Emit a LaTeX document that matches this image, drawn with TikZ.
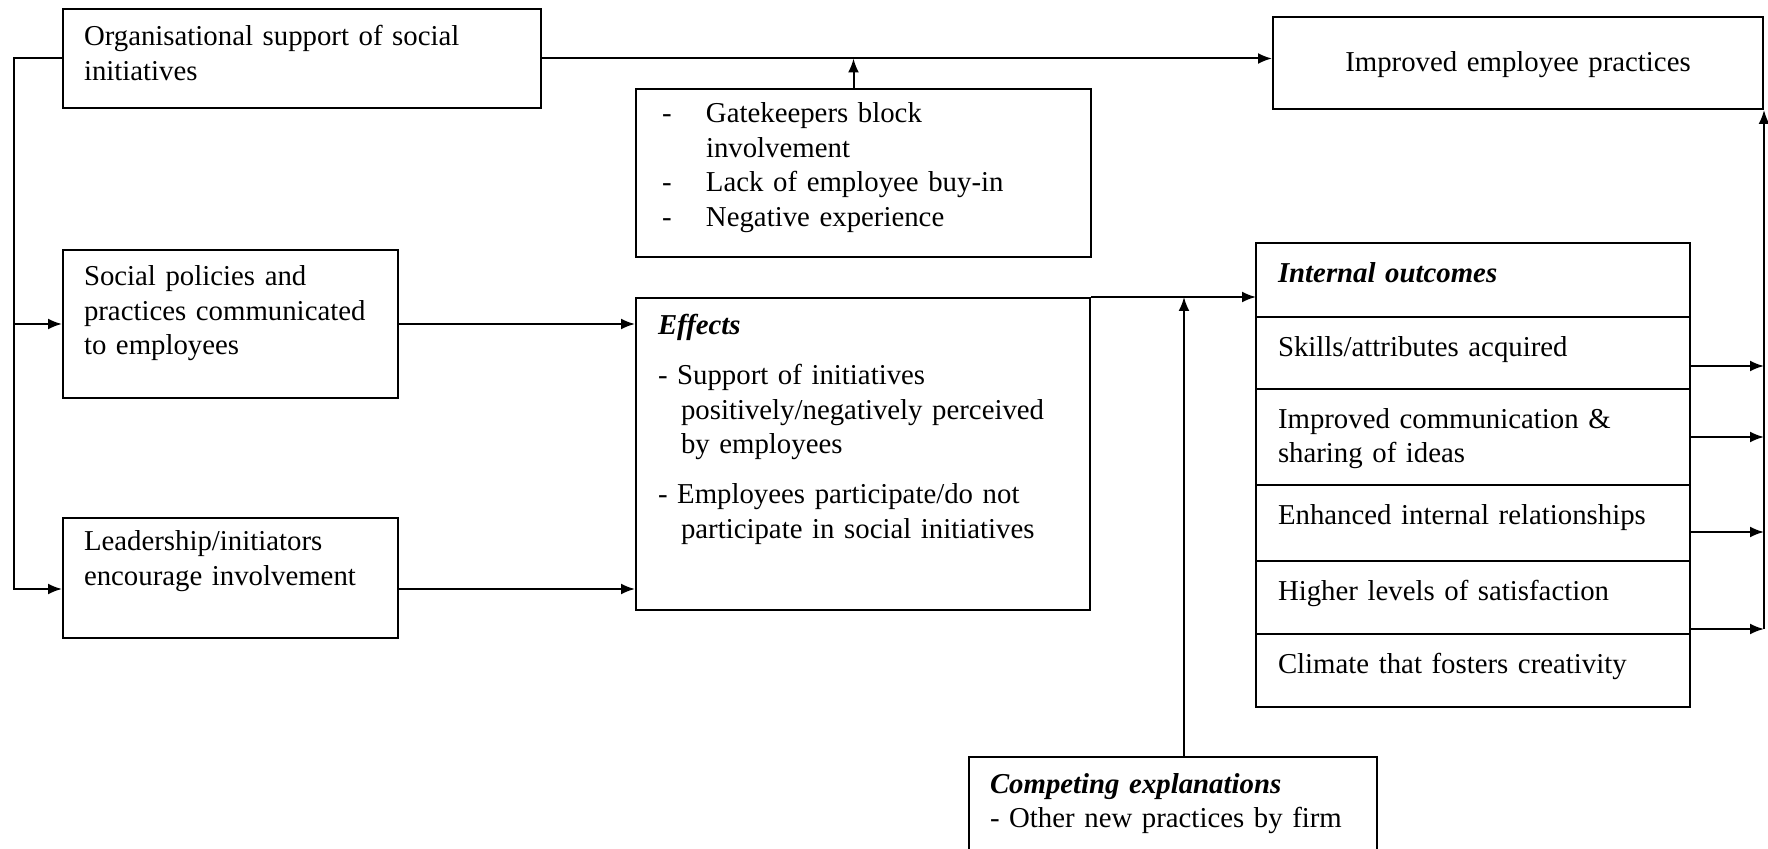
\documentclass[tikz,border=0pt]{standalone}
\usepackage{fontspec}
\setmainfont{Liberation Serif}
\usetikzlibrary{positioning,arrows.meta}
\tikzset{
  box/.style={draw, line width=1pt, anchor=north west, inner ysep=0pt, inner xsep=10.5pt,
    align=left, font=\fontsize{14.4}{17.25}\selectfont},
  row/.style={box, outer sep=0pt, inner xsep=11pt, text width=195pt, text height=19.75pt},
}
\begin{document}
\begin{tikzpicture}[x=0.5pt, y=-0.5pt, line width=1pt, >={Latex[length=7pt,width=5.5pt]}]
  \useasboundingbox (0,0) rectangle (1768,849);
  \clip (0,0) rectangle (1768,849);
  %% left column
  \node[box, text width=218pt, text height=18.5pt, text depth=31pt] (org) at (62,8)
    {Organisational support of social\\initiatives};
  \node[box, text width=146.5pt, text height=18pt, text depth=56pt] (soc) at (62,249)
    {Social policies and\\practices communicated\\to employees};
  \node[box, text width=146.5pt, text height=16.5pt, text depth=43.5pt] (lead) at (62,517)
    {Leadership/initiators\\encourage involvement};
  %% middle
  \node[box, inner xsep=13pt, text width=201.5pt, text height=17pt, text depth=67pt] (gate) at (635,88)
    {\makebox[22pt][l]{-}Gatekeepers block\\
     \hspace*{22pt}involvement\\
     \makebox[22pt][l]{-}Lack of employee buy-in\\
     \makebox[22pt][l]{-}Negative experience};
  \node[box, inner xsep=11pt, text width=205pt, text height=18.5pt, text depth=137.5pt] (eff) at (635,297)
    {\textbf{\textit{Effects}}\\[7.75pt]
     - Support of initiatives\\
     \hspace*{11.5pt}positively/negatively perceived\\
     \hspace*{11.5pt}by employees\\[7.75pt]
     - Employees participate/do not\\
     \hspace*{11.5pt}participate in social initiatives};
  \node[box, text width=183pt, text height=18pt, text depth=39pt] (comp) at (968,756)
    {\textbf{\textit{Competing explanations}}\\- Other new practices by firm};
  %% right column
  \node[box, align=center, text width=224pt, text height=27.5pt, text depth=18.5pt] (imp) at (1272,16)
    {Improved employee practices};
  \node[row, text depth=17.25pt] (hdr) at (1256,243) {\textbf{\textit{Internal outcomes}}};
  \node[row, text depth=16.25pt, below=0pt of hdr] (r1) {Skills/attributes acquired};
  \node[row, text depth=28.25pt, below=0pt of r1] (r2) {Improved communication \&\\sharing of ideas};
  \node[row, text depth=18.25pt, below=0pt of r2] (r3) {Enhanced internal relationships};
  \node[row, text depth=16.75pt, below=0pt of r3] (r4) {Higher levels of satisfaction};
  \node[row, text depth=16.75pt, below=0pt of r4] (r5) {Climate that fosters creativity};

  %% connectors
  \coordinate (bus) at (14,0);
  \coordinate (ldin) at ([yshift=-5.5pt]lead.west);
  \coordinate (ldout) at ([yshift=-5.5pt]lead.east);
  \draw[->] (org.west) -- (org.west -| bus) |- (ldin);
  \draw[->] (soc.west -| bus) -- (soc.west);
  \draw[->] (soc.east) -- (soc.east -| eff.west);
  \draw[->] (ldout) -- (ldout -| eff.west);
  \draw[->] (org.east) -- (org.east -| imp.west);
  \coordinate (gt) at ([xshift=-5pt]gate.north);
  \draw[->] (gt) -- (gt |- org.east);
  \draw[->] (eff.north east) -- (eff.north east -| hdr.west);
  \coordinate (cp) at ([xshift=5.5pt]comp.north);
  \draw[->] (cp) -- (cp |- eff.north east);
  %% outcomes to practices
  \coordinate (o1) at ([yshift=-6.5pt]r1.east);
  \coordinate (o2) at (r2.east);
  \coordinate (o3) at ([yshift=-4.5pt]r3.east);
  \coordinate (o4) at ([yshift=-15.75pt]r4.east);
  \draw[->] (o1) -- (o1 -| imp.east);
  \draw[->] (o2) -- (o2 -| imp.east);
  \draw[->] (o3) -- (o3 -| imp.east);
  \draw[->] (o4) -- (o4 -| imp.east);
  \draw[->] (o4 -| imp.east) -- (imp.south east);
\end{tikzpicture}
\end{document}
